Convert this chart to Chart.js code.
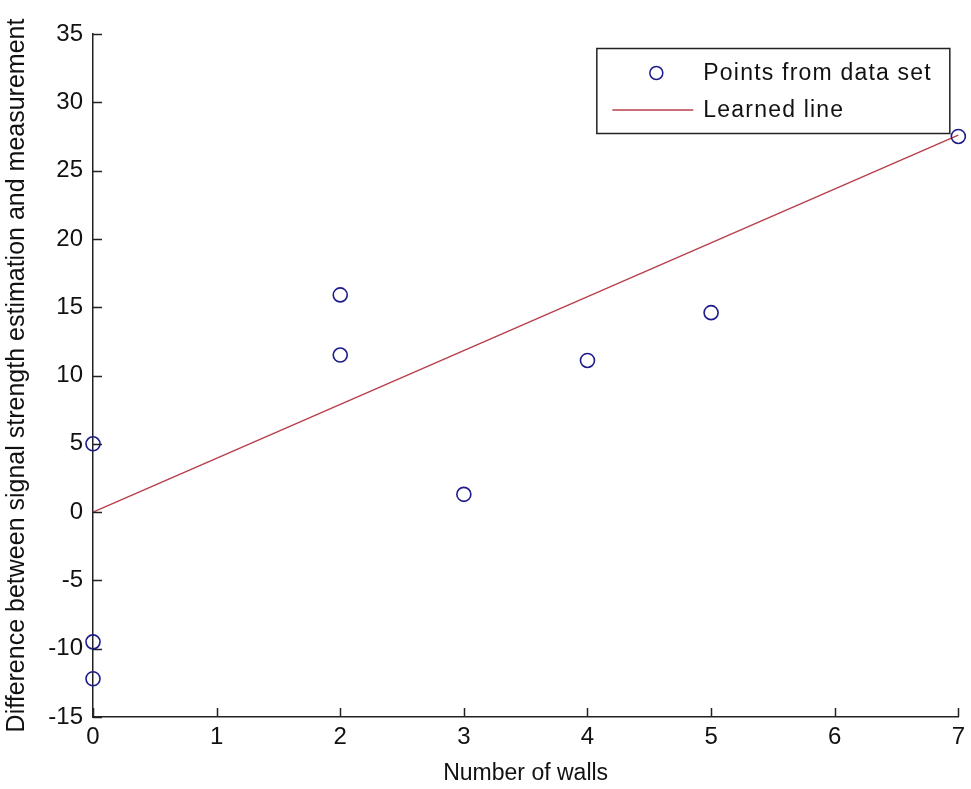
<!DOCTYPE html>
<html>
<head>
<meta charset="utf-8">
<script src="https://cdn.jsdelivr.net/npm/chart.js@4"></script>
<style>
html,body{margin:0;padding:0;background:#fff;}
#wrap{width:971px;height:789px;}
</style>
</head>
<body>
<div id="wrap"><canvas id="c" width="971" height="789"></canvas></div>
<script>
const pointsX = [0, 0, 0, 2, 2, 3, 4, 5, 7];
const pointsY = [5.0, -9.5, -12.2, 15.9, 11.5, 1.3, 11.1, 14.6, 27.5];
const lineX = [0, 7];
const lineY = [0, 27.6];
const xTicks = [0, 1, 2, 3, 4, 5, 6, 7];
const yTicks = [-15, -10, -5, 0, 5, 10, 15, 20, 25, 30, 35];
const seriesLabels = ['Points from data set', 'Learned line'];
const xTitle = 'Number of walls';
const yTitle = 'Difference between signal strength estimation and measurement';

const FONT = '"Liberation Sans", Arial, sans-serif';
const AXIS = '#222';
const BLUE = '#1c1c8c';
const RED = '#b8404c';

const innerTicks = {
  id: 'innerTicks',
  afterDraw(chart) {
    const {ctx, chartArea, scales} = chart;
    ctx.save();
    ctx.strokeStyle = AXIS;
    ctx.lineWidth = 1.5;
    ctx.beginPath();
    xTicks.forEach(v => {
      const px = Math.round(scales.x.getPixelForValue(v)) + 0.5;
      ctx.moveTo(px, chartArea.bottom);
      ctx.lineTo(px, chartArea.bottom - 9);
    });
    yTicks.forEach(v => {
      const py = Math.round(scales.y.getPixelForValue(v)) + 0.5;
      ctx.moveTo(chartArea.left, py);
      ctx.lineTo(chartArea.left + 9, py);
    });
    ctx.stroke();
    ctx.restore();
  }
};

const boxLegend = {
  id: 'boxLegend',
  afterDraw(chart) {
    const {ctx, chartArea} = chart;
    const right = chartArea.right - 9;
    const left = right - 353;
    const top = chartArea.top + 14;
    const h = 85;
    ctx.save();
    ctx.fillStyle = '#fff';
    ctx.fillRect(left, top, right - left, h);
    ctx.strokeStyle = AXIS;
    ctx.lineWidth = 1.5;
    ctx.strokeRect(left + 0.5, top + 0.5, right - left, h);
    ctx.strokeStyle = BLUE;
    ctx.lineWidth = 1.5;
    ctx.beginPath();
    ctx.arc(left + 60, top + 25, 6.5, 0, Math.PI * 2);
    ctx.stroke();
    ctx.strokeStyle = RED;
    ctx.lineWidth = 1.5;
    ctx.beginPath();
    ctx.moveTo(left + 16, top + 62);
    ctx.lineTo(left + 97, top + 62);
    ctx.stroke();
    ctx.fillStyle = '#111';
    ctx.font = '23px ' + FONT;
    if ('letterSpacing' in ctx) ctx.letterSpacing = '1.2px';
    ctx.textBaseline = 'middle';
    ctx.textAlign = 'left';
    ctx.fillText(seriesLabels[0], left + 107, top + 26);
    ctx.fillText(seriesLabels[1], left + 107, top + 63);
    ctx.restore();
  }
};

new Chart(document.getElementById('c'), {
  type: 'scatter',
  data: {
    datasets: [
      {
        label: seriesLabels[0],
        data: pointsX.map((x, i) => ({x: x, y: pointsY[i]})),
        showLine: false,
        pointStyle: 'circle',
        pointRadius: 7,
        pointBorderWidth: 1.6,
        pointBorderColor: BLUE,
        pointBackgroundColor: 'rgba(0,0,0,0)',
        clip: false,
        order: 1
      },
      {
        label: seriesLabels[1],
        data: lineX.map((x, i) => ({x: x, y: lineY[i]})),
        showLine: true,
        pointRadius: 0,
        borderColor: RED,
        borderWidth: 1.5,
        fill: false,
        clip: false,
        order: 2
      }
    ]
  },
  options: {
    responsive: false,
    animation: false,
    events: [],
    layout: {padding: {left: 0, right: 8, top: 34, bottom: 0}},
    plugins: {legend: {display: false}, tooltip: {enabled: false}},
    scales: {
      x: {
        type: 'linear',
        min: 0, max: 7,
        afterBuildTicks(scale) { scale.ticks = xTicks.map(v => ({value: v})); },
        afterFit(scale) { scale.height = 72; },
        grid: {display: false, drawTicks: false},
        border: {display: true, color: AXIS, width: 1.5},
        ticks: {color: '#111', font: {family: FONT, size: 24}, padding: 6, maxRotation: 0,
                callback: v => String(v)},
        title: {display: true, text: xTitle, color: '#111', font: {family: FONT, size: 23}, padding: {top: 0, bottom: 2}}
      },
      y: {
        type: 'linear',
        min: -15, max: 35,
        afterBuildTicks(scale) { scale.ticks = yTicks.map(v => ({value: v})); },
        afterFit(scale) { scale.width = 93; },
        grid: {display: false, drawTicks: false},
        border: {display: true, color: AXIS, width: 1.5},
        ticks: {color: '#111', font: {family: FONT, size: 24}, padding: 10,
                callback: v => String(v)},
        title: {display: true, text: yTitle, color: '#111', font: {family: FONT, size: 25}, padding: {top: 2, bottom: 2}}
      }
    }
  },
  plugins: [innerTicks, boxLegend]
});
</script>
</body>
</html>
